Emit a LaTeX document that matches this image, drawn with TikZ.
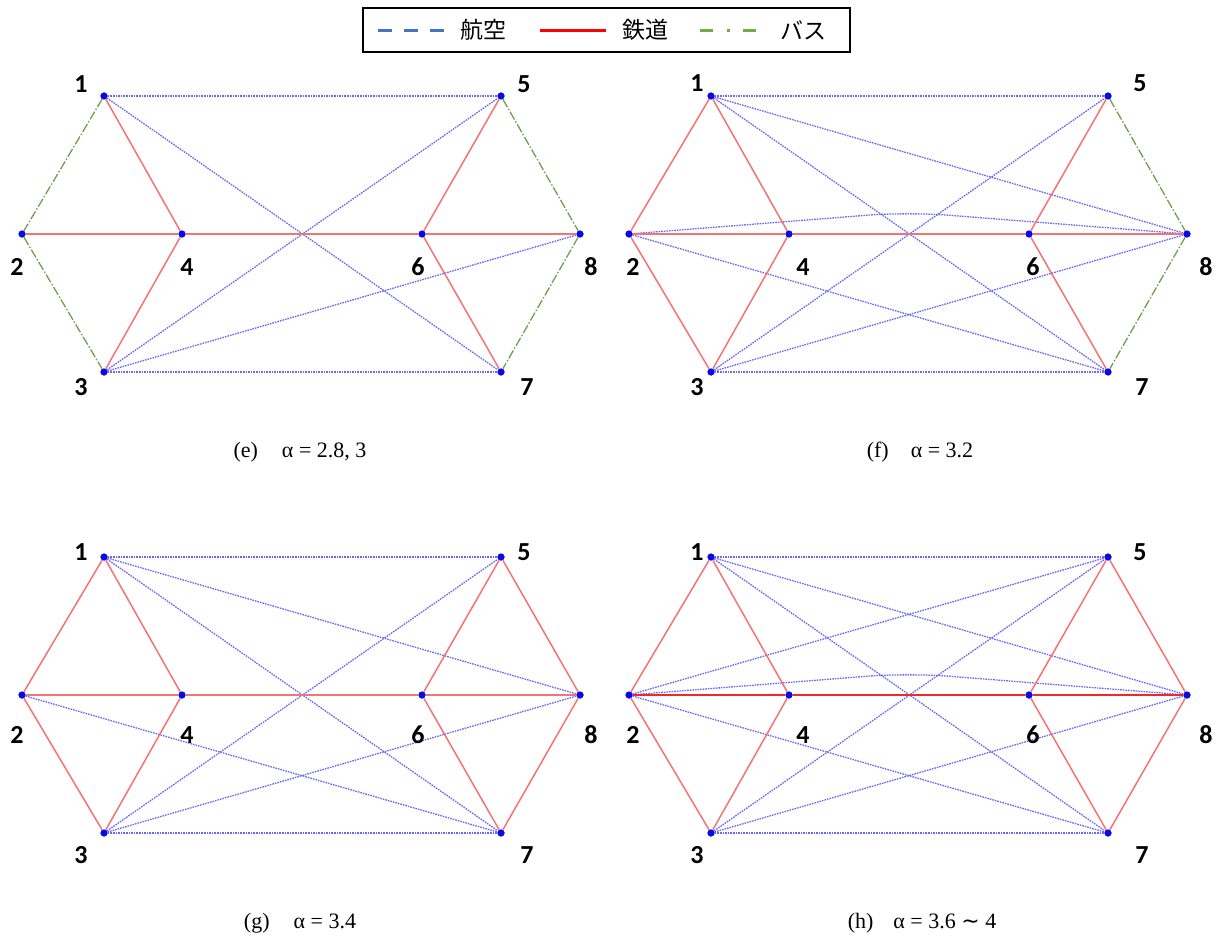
\documentclass[tikz,border=0pt]{standalone}
\usepackage{fontspec}
\setmainfont{Liberation Serif}
\newfontfamily\cjk{Noto Sans CJK JP}
\newfontfamily\labfont{Carlito}
\newfontfamily\symfont{DejaVu Sans}
\usetikzlibrary{calc}
\definecolor{airc}{RGB}{105,105,245}
\definecolor{railc}{RGB}{245,115,115}
\definecolor{raildark}{RGB}{240,40,40}
\definecolor{busc}{RGB}{110,160,80}
\definecolor{legblue}{RGB}{68,114,196}
\definecolor{leggreen}{RGB}{112,173,71}
\definecolor{dotc}{RGB}{10,10,230}
\tikzset{
  air/.style={draw=airc, line width=1.3pt, dash pattern=on 1.6pt off 1pt},
  rail/.style={draw=railc, line width=1.5pt},
  raild/.style={draw=raildark, line width=1.5pt},
  bus/.style={draw=busc, line width=1.3pt, dash pattern=on 9pt off 2pt on 1.5pt off 2pt},
  dot/.style={circle, fill=dotc, inner sep=0pt, minimum size=7pt},
  lab/.style={font=\labfont\bfseries\fontsize{26}{26}\selectfont, inner sep=0pt},
  captxt/.style={font=\fontsize{22}{22}\selectfont, inner sep=0pt},
  legtxt/.style={font=\cjk\fontsize{23}{23}\selectfont, inner sep=0pt}
}
\newcommand\panelnodes[3]{%
  \begin{scope}[shift={(#2,#3)}]
    \foreach \n/\px/\py in {1/0/0,5/397/0,2/-82/138,4/78/138,6/318/138,8/476/138,3/0/276,7/397/276}
      \node[dot] (#1\n) at (\px,\py) {};
  \end{scope}}
\begin{document}
\begin{tikzpicture}[x=1pt,y=-1pt]
\useasboundingbox (0,0) rectangle (1222,939);
% legend
\node[draw, line width=1.5pt, minimum width=487pt, minimum height=44pt, inner sep=0pt] (leg) at (606.5,30) {};
\draw[legblue, line width=3pt, dash pattern=on 14pt off 12pt] (378,31) -- (446,31);
\node[legtxt] (t1) at (483,30) {航空};
\draw[red, line width=3pt] (540,31) -- (606,31);
\node[legtxt] (t2) at (645,30) {鉄道};
\draw[leggreen, line width=3pt, dash pattern=on 13pt off 14pt on 3pt off 13pt] (700,31) -- (757,31);
\node[legtxt] (t3) at (803,30) {バス};
% nodes
\panelnodes{e}{104}{96}
\panelnodes{f}{711}{96}
\panelnodes{g}{104}{557}
\panelnodes{h}{711}{557}
% panel e
\draw[air] (e1) -- (e5);
\draw[air] (e1) -- (e7);
\draw[air] (e3) -- (e5);
\draw[air] (e3) -- (e8);
\draw[air] (e3) -- (e7);
\draw[bus] (e1) -- (e2);
\draw[bus] (e2) -- (e3);
\draw[bus] (e5) -- (e8);
\draw[bus] (e8) -- (e7);
\draw[rail] (e1) -- (e4);
\draw[rail] (e2) -- (e4);
\draw[rail] (e4) -- (e3);
\draw[rail] (e4) -- (e6);
\draw[rail] (e6) -- (e5);
\draw[rail] (e6) -- (e8);
\draw[rail] (e6) -- (e7);
% panel f
\draw[air] (f1) -- (f5);
\draw[air] (f1) -- (f8);
\draw[air] (f1) -- (f7);
\draw[air] (f3) -- (f5);
\draw[air] (f3) -- (f8);
\draw[air] (f3) -- (f7);
\draw[air] (f2) -- (f7);
\coordinate (fpk) at ($(f2)!0.5!(f8)+(0,-22)$);
\draw[air, rounded corners=40pt] (f2) -- (fpk) -- (f8);
\draw[rail] (f1) -- (f2);
\draw[rail] (f2) -- (f3);
\draw[rail] (f1) -- (f4);
\draw[rail] (f4) -- (f3);
\draw[rail] (f2) -- (f4);
\draw[rail] (f4) -- (f6);
\draw[rail] (f6) -- (f8);
\draw[rail] (f6) -- (f5);
\draw[rail] (f6) -- (f7);
\draw[bus] (f5) -- (f8);
\draw[bus] (f8) -- (f7);
% panel g
\draw[air] (g1) -- (g5);
\draw[air] (g1) -- (g8);
\draw[air] (g1) -- (g7);
\draw[air] (g3) -- (g5);
\draw[air] (g3) -- (g8);
\draw[air] (g3) -- (g7);
\draw[air] (g2) -- (g7);
\draw[rail] (g1) -- (g2);
\draw[rail] (g2) -- (g3);
\draw[rail] (g1) -- (g4);
\draw[rail] (g4) -- (g3);
\draw[rail] (g2) -- (g4);
\draw[rail] (g4) -- (g6);
\draw[rail] (g6) -- (g8);
\draw[rail] (g5) -- (g6);
\draw[rail] (g6) -- (g7);
\draw[rail] (g5) -- (g8);
\draw[rail] (g8) -- (g7);
% panel h
\draw[air] (h1) -- (h5);
\draw[air] (h1) -- (h8);
\draw[air] (h1) -- (h7);
\draw[air] (h2) -- (h5);
\draw[air] (h2) -- (h7);
\coordinate (hpk) at ($(h2)!0.5!(h8)+(0,-22)$);
\draw[air, rounded corners=40pt] (h2) -- (hpk) -- (h8);
\draw[air] (h3) -- (h5);
\draw[air] (h3) -- (h8);
\draw[air] (h3) -- (h7);
\draw[rail] (h1) -- (h2);
\draw[rail] (h2) -- (h3);
\draw[rail] (h1) -- (h4);
\draw[rail] (h4) -- (h3);
\draw[rail] (h5) -- (h6);
\draw[rail] (h6) -- (h7);
\draw[rail] (h5) -- (h8);
\draw[rail] (h8) -- (h7);
\draw[raild] (h2) -- (h4);
\draw[raild] (h4) -- (h6);
\draw[raild] (h6) -- (h8);
% dots on top
\foreach \p in {e,f,g,h}{\foreach \n in {1,...,8}{\fill[dotc] (\p\n) circle (3.5pt);}}
% labels e
\node[lab] (le1) at (81,84) {1};
\node[lab] (le5) at (524,84) {5};
\node[lab] (le2) at (17,267) {2};
\node[lab] (le4) at (187,267) {4};
\node[lab] (le6) at (418,267) {6};
\node[lab] (le8) at (591,267) {8};
\node[lab] (le3) at (81,387) {3};
\node[lab] (le7) at (527,387) {7};
% labels f
\node[lab] (lf1) at (697,83) {1};
\node[lab] (lf5) at (1140,83) {5};
\node[lab] (lf2) at (633,267) {2};
\node[lab] (lf4) at (803,267) {4};
\node[lab] (lf6) at (1033,267) {6};
\node[lab] (lf8) at (1206,267) {8};
\node[lab] (lf3) at (697,387) {3};
\node[lab] (lf7) at (1142,387) {7};
% labels g
\node[lab] (lg1) at (81,552) {1};
\node[lab] (lg5) at (524,552) {5};
\node[lab] (lg2) at (17,735) {2};
\node[lab] (lg4) at (187,735) {4};
\node[lab] (lg6) at (418,735) {6};
\node[lab] (lg8) at (591,735) {8};
\node[lab] (lg3) at (81,855) {3};
\node[lab] (lg7) at (527,855) {7};
% labels h
\node[lab] (lh1) at (697,552) {1};
\node[lab] (lh5) at (1140,552) {5};
\node[lab] (lh2) at (633,735) {2};
\node[lab] (lh4) at (803,735) {4};
\node[lab] (lh6) at (1033,735) {6};
\node[lab] (lh8) at (1206,735) {8};
\node[lab] (lh3) at (697,855) {3};
\node[lab] (lh7) at (1142,855) {7};
% captions
\node[captxt] (ce) at (300,452) {(e)\hspace{24pt}α = 2.8, 3};
\node[captxt] (cf) at (920,452) {(f)\hspace{22pt}α = 3.2};
\node[captxt] (cg) at (300,923) {(g)\hspace{24pt}α = 3.4};
\node[captxt] (ch) at (922,923) {(h)\hspace{20pt}α = 3.6 {\symfont ∼} 4};
\end{tikzpicture}
\end{document}
